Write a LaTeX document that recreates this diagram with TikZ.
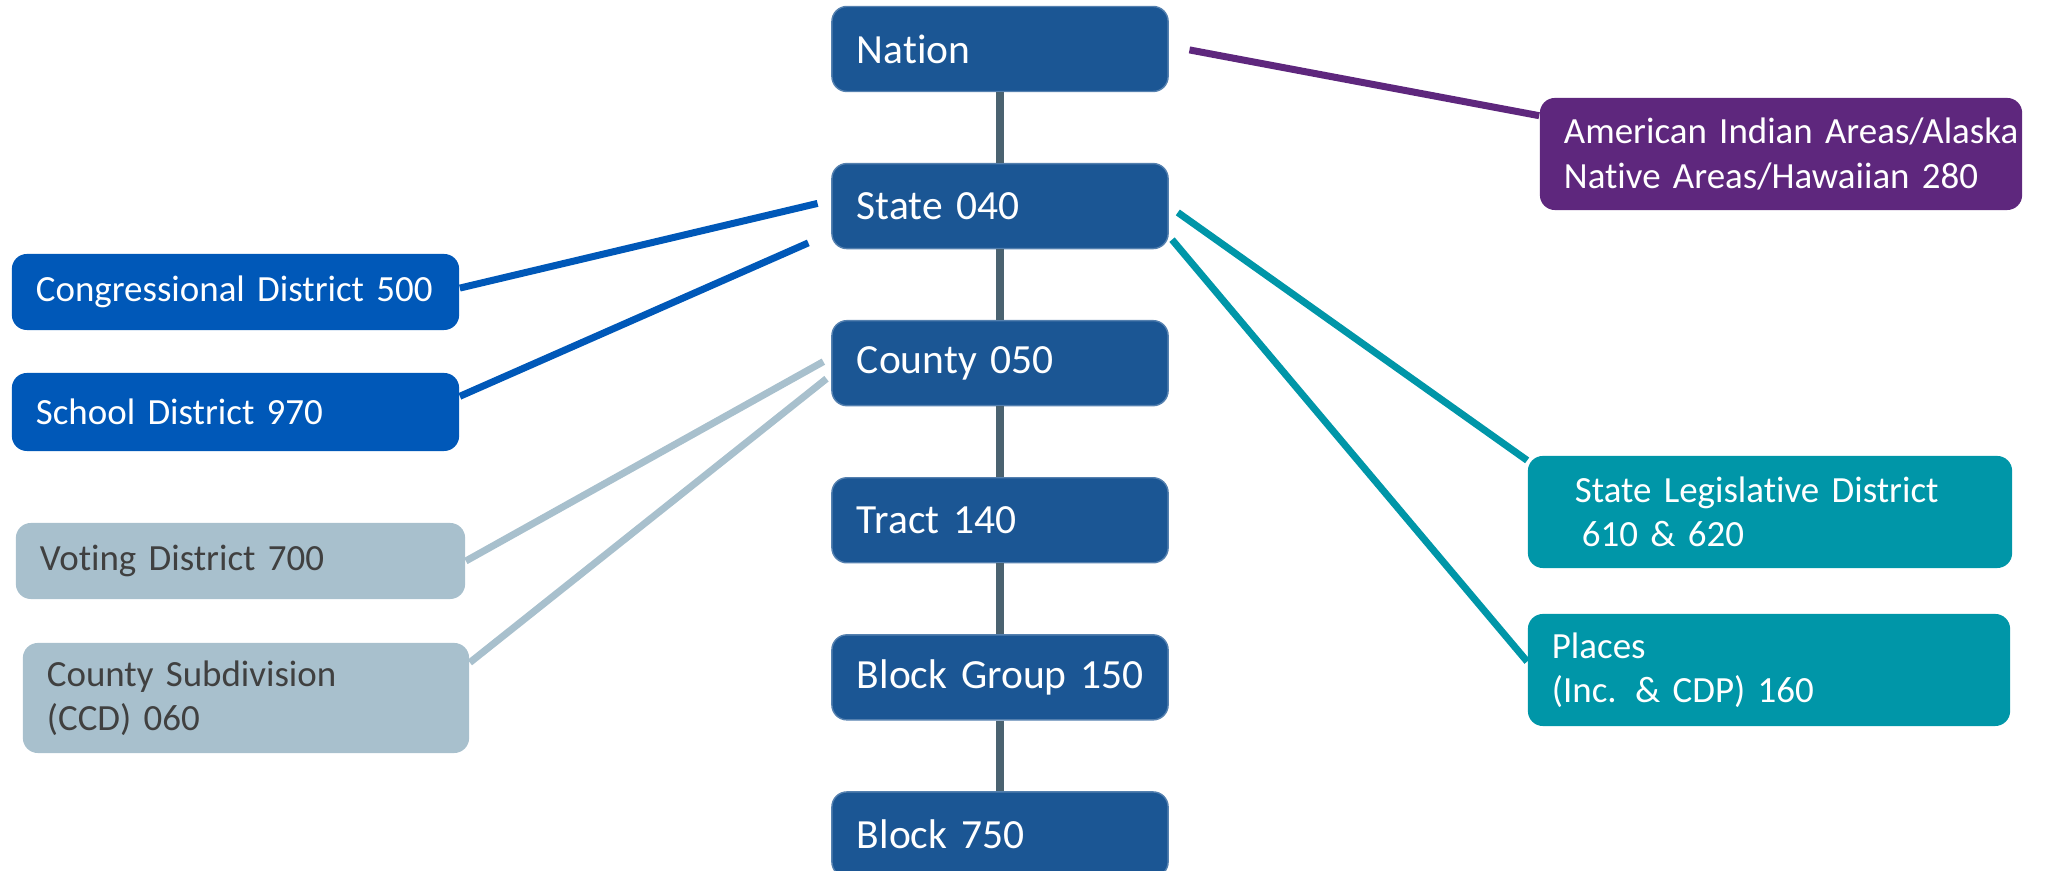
\documentclass[tikz,border=0pt]{standalone}
\usepackage{fontspec}
\setmainfont{Carlito}[Ligatures=NoCommon]
\definecolor{nodeblue}{RGB}{27,86,148}
\definecolor{distblue}{RGB}{0,88,184}
\definecolor{votegray}{RGB}{168,192,205}
\definecolor{votetext}{RGB}{64,64,64}
\definecolor{aianpurple}{RGB}{94,39,125}
\definecolor{placeteal}{RGB}{0,150,168}
\definecolor{stemgray}{RGB}{74,98,112}

\begin{document}
\begin{tikzpicture}[x=0.01cm,y=-0.01cm,node distance=1.57cm,
                    main node/.style={rectangle,rounded corners=0.15cm,fill=nodeblue,draw=nodeblue!75!white,
                      line width=0.4pt,text=white,minimum height=0.85cm,text width=3.36cm,inner xsep=0pt,
                      align=left,execute at begin node={\leftskip=0.25cm},font=\fontsize{11.8}{14}\selectfont},
                    side node/.style={rectangle,rounded corners=0.15cm,inner xsep=0pt,align=left,
                      execute at begin node={\leftskip=0.24cm},font=\fontsize{10.5}{12.6}\selectfont},
                    link/.style={line width=0.07cm}]
  \useasboundingbox (0,0) rectangle (2070,871);

  % central chain
  \node[main node] (nation) at (1000,49) {Nation};
  \node[main node] (state) [below of=nation] {State 040};
  \node[main node] (county) [below of=state] {County 050};
  \node[main node] (tract) [below of=county] {Tract 140};
  \node[main node] (bgroup) [below of=tract] {Block Group 150};
  \node[main node] (block) [below of=bgroup] {Block 750};

  % left side
  \node[side node,fill=distblue,text=white,text width=4.47cm,minimum height=0.76cm] (cd) at (235.5,292) {Congressional District 500};
  \node[side node,fill=distblue,text=white,text width=4.47cm,minimum height=0.78cm] (sd) at (235.5,412) {School District 970};
  \node[side node,fill=votegray,text=votetext,text width=4.49cm,minimum height=0.76cm] (vtd) at (240.5,561) {Voting District 700};
  \node[side node,fill=votegray,text=votetext,text width=4.46cm,minimum height=1.10cm] (ccd) at (246,698) {County Subdivision\\(CCD) 060};

  % right side
  \node[side node,fill=aianpurple,text=white,text width=4.82cm,minimum height=1.12cm] (aian) at (1781,154) {American Indian Areas/Alaska\\Native Areas/Hawaiian 280};
  \node[side node,fill=placeteal,text=white,text width=4.84cm,minimum height=1.12cm] (sld) at (1770,512) {\hspace*{0.23cm}State Legislative District\\\hspace*{0.30cm}610 \& 620};
  \node[side node,fill=placeteal,text=white,text width=4.82cm,minimum height=1.12cm] (place) at (1769,670) {Places\\(Inc. \& CDP) 160};

  \path[draw=stemgray,line width=0.08cm]
    (nation) edge (state)
    (state) edge (county)
    (county) edge (tract)
    (tract) edge (bgroup)
    (bgroup) edge (block);

  \path[link]
    (cd.1) edge [draw=distblue,shorten >=0.14cm] (state.178)
    (sd.4) edge [draw=distblue,shorten >=0.25cm] (state.189)

    (vtd.east) edge [draw=votegray,shorten >=0.09cm] (county.178)
    (ccd.9) edge [draw=votegray,shorten >=0.06cm] (county.184)

    (nation.1) edge [draw=aianpurple,shorten <=0.21cm] (aian.171)

    (state.0) edge [draw=placeteal,shorten <=0.11cm] (sld.168)
    (state.-10) edge [draw=placeteal,shorten <=0.05cm] (place.178)
;
\end{tikzpicture}
\end{document}
